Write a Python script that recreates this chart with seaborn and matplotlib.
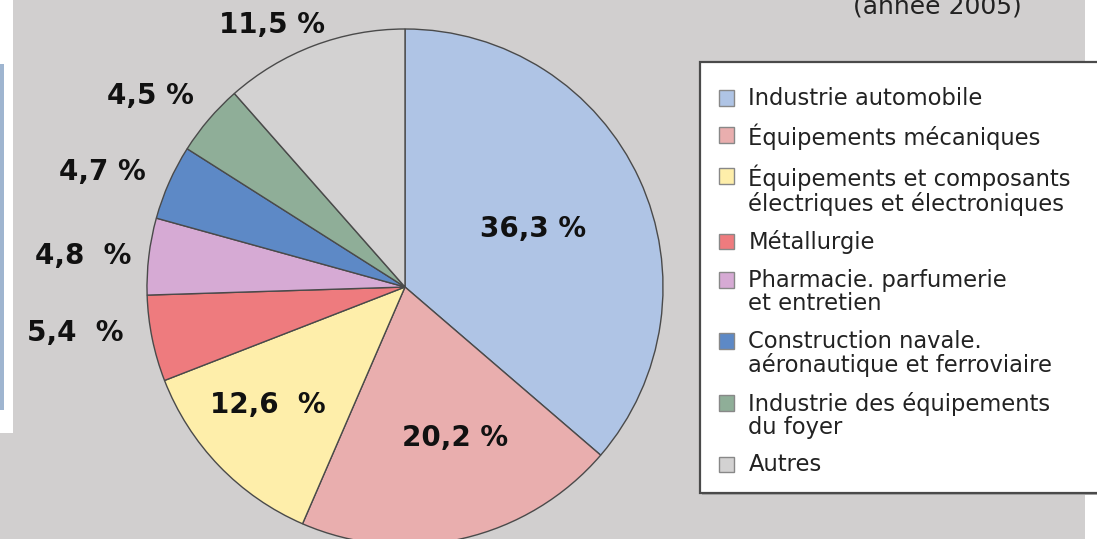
import matplotlib.pyplot as plt
import seaborn as sns
from matplotlib.patches import Patch, Rectangle
from matplotlib.legend_handler import HandlerPatch

# data
sectors = [
    "Industrie automobile",
    "Équipements mécaniques",
    "Équipements et composants\nélectriques et électroniques",
    "Métallurgie",
    "Pharmacie. parfumerie\net entretien",
    "Construction navale.\naéronautique et ferroviaire",
    "Industrie des équipements\ndu foyer",
    "Autres",
]
shares = [36.3, 20.2, 12.6, 5.4, 4.8, 4.7, 4.5, 11.5]
share_labels = ["36,3 %", "20,2 %", "12,6  %", "5,4  %", "4,8  %", "4,7 %", "4,5 %", "11,5 %"]
colors = ["#afc4e5", "#e9aeae", "#feeeaa", "#ee7b7e", "#d6aad4", "#5d89c6", "#8fae98", "#d3d2d2"]

# label positions in pixels (x, y from top)
label_xy = [(533, 229), (455, 438), (268, 405), (75, 333), (83, 256), (102, 172), (150, 96), (272, 25)]

W, H = 1097, 539
bg = "#d1cfcf"

sns.set_theme(style="white")
plt.rcParams["font.family"] = ["DejaVu Sans"]

fig = plt.figure(figsize=(W / 100, H / 100), dpi=100, facecolor=bg)
ax = fig.add_axes([0, 0, 1, 1])
ax.set_facecolor(bg)

palette = sns.color_palette(colors)
ax.pie(shares, colors=palette, startangle=90, counterclock=False,
       center=(405, H - 287), radius=258,
       wedgeprops=dict(edgecolor="#4a4a4a", linewidth=1.0))
ax.set_xlim(0, W)
ax.set_ylim(0, H)
ax.set_aspect("equal")
ax.axis("off")

for txt, (x, y) in zip(share_labels, label_xy):
    ax.text(x, H - y, txt, ha="center", va="center", fontsize=20,
            fontweight="bold", color="#111111")

# scraps of the neighbouring pictures in the crop
ax.add_patch(Rectangle((0, H - 433), 13, 433, facecolor="white", edgecolor="none", zorder=0.5))
ax.add_patch(Rectangle((0, H - 410), 4, 346, facecolor="#9fb5d0", edgecolor="none", zorder=0.6))
ax.add_patch(Rectangle((1085, 0), 12, H, facecolor="white", edgecolor="none", zorder=0.5))

ax.text(937, H - 15, "(année 2005)", ha="center", va="baseline", fontsize=18, color="#222222")

# legend box (runs past the right edge of the crop) with a small shadow
ax.add_patch(Rectangle((702, H - 495), 420, 431, facecolor="#a9a9a9", edgecolor="none", zorder=3))
ax.add_patch(Rectangle((700, H - 493), 420, 431, facecolor="white", edgecolor="#4a4a4a",
                       linewidth=1.6, zorder=4))


def low_square(legend, orig_handle, xdescent, ydescent, width, height, fontsize):
    # square drawn at the bottom of a taller handle box
    side = 0.7 * fontsize
    return Rectangle((-xdescent, -ydescent), width, side)


handles = [Patch(facecolor=c, edgecolor="#888888", linewidth=1.0) for c in palette]
leg = fig.legend(handles, sectors, loc="upper left",
                 bbox_to_anchor=(697 / W, 1 - 65 / H), borderaxespad=0,
                 fontsize=16.3, frameon=False,
                 handlelength=0.7, handleheight=0.92, handletextpad=0.62,
                 labelspacing=0.64, borderpad=0.95,
                 handler_map={Patch: HandlerPatch(patch_func=low_square)})
for t in leg.get_texts():
    t.set_color("#222222")
    t.set_linespacing(1.02)

# square sits next to the first line of a two-line label
try:
    for col in leg._legend_handle_box.get_children():
        for row in col.get_children():
            row.align = "top"
except AttributeError:
    pass

fig.savefig("out.png", dpi=100, facecolor=bg)
